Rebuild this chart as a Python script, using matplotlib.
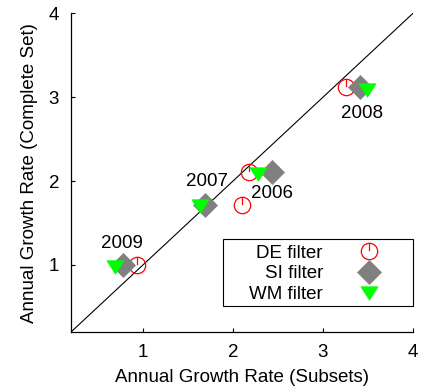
import numpy as np
import matplotlib
matplotlib.use("Agg")
import matplotlib.pyplot as plt
from matplotlib.path import Path
from matplotlib.patches import Rectangle

plt.rcParams['font.family'] = ['Liberation Sans', 'DejaVu Sans']

# Annual growth rate per year: subsets (x) vs complete set (y)
years = ['2006', '2007', '2008', '2009']
de_subsets = [2.18, 2.10, 3.25, 0.93]
de_complete = [2.11, 1.71, 3.12, 1.00]
si_subsets = [2.43, 1.69, 3.41, 0.78]
si_complete = [2.11, 1.72, 3.12, 1.00]
wm_subsets = [2.28, 1.63, 3.49, 0.69]
wm_complete = [2.08, 1.70, 3.09, 0.98]
ticks = [1, 2, 3, 4]

FS = 13.5

# circle with a short stroke from the top toward the centre
circ = Path.unit_circle()
de_marker = Path(np.concatenate([circ.vertices, [[0, 1], [0, 0.05]]]),
                 np.concatenate([circ.codes, [Path.MOVETO, Path.LINETO]]))
# downward triangle, a little wider than tall
tri_marker = Path([(-1, 0.78), (1, 0.78), (0, -0.78), (-1, 0.78)],
                  [Path.MOVETO, Path.LINETO, Path.LINETO, Path.CLOSEPOLY])

fig = plt.figure(figsize=(4.21, 3.90), dpi=100)
ax = fig.add_axes([71 / 421, 1 - 332 / 390, 342 / 421, 318.7 / 390])

ax.plot([0.2, 4], [0.2, 4], color='black', lw=0.8, zorder=1)

ax.plot(de_subsets, de_complete, ls='none', marker=de_marker, ms=11.8,
        mfc='none', mec='#ff0000', mew=0.9, label='DE filter', zorder=2)
ax.plot(si_subsets, si_complete, ls='none', marker='D', ms=11.8,
        mfc='#808080', mec='#808080', mew=0.5, label='SI filter', zorder=3)
ax.plot(wm_subsets, wm_complete, ls='none', marker=tri_marker, ms=12.4,
        mfc='#00ff00', mec='#00ff00', mew=0.5, label='WM filter', zorder=4)

label_offsets = [(0, -15.3), (1.2, 16.6), (1.8, -18.7), (-0.7, 15.1)]
for yr, x, y, off in zip(years, si_subsets, si_complete, label_offsets):
    ax.annotate(yr, (x, y), xytext=off, textcoords='offset points',
                ha='center', va='center', fontsize=FS, zorder=5)

ax.set_xlim(0.2, 4)
ax.set_ylim(0.2, 4)
ax.set_xticks(ticks)
ax.set_yticks(ticks)
ax.set_xticklabels([str(t) for t in ticks])
ax.set_yticklabels([str(t) for t in ticks])
ax.tick_params(direction='in', length=3, width=0.8, labelsize=FS, pad=8.5)
for side in ('top', 'right'):
    ax.spines[side].set_visible(False)
for side in ('left', 'bottom'):
    ax.spines[side].set_linewidth(0.9)

ax.set_xlabel('Annual Growth Rate (Subsets)', fontsize=FS, labelpad=6)
ax.set_ylabel('Annual Growth Rate (Complete Set)', fontsize=FS, labelpad=8)

leg = ax.legend(loc='upper right', bbox_to_anchor=((382 - 71) / 342, (332 - 244.5) / 318.7),
                frameon=False, markerfirst=False, borderpad=0, borderaxespad=0,
                handlelength=1.4, handletextpad=1.75, labelspacing=0.2,
                numpoints=1, fontsize=FS)
ax.add_patch(Rectangle(((223 - 71) / 342, (332 - 306) / 318.7),
                       (413 - 223) / 342, (306 - 239) / 318.7,
                       transform=ax.transAxes, fill=False, ec='black', lw=0.8,
                       clip_on=False, zorder=6))

fig.savefig('out.png', dpi=100)
